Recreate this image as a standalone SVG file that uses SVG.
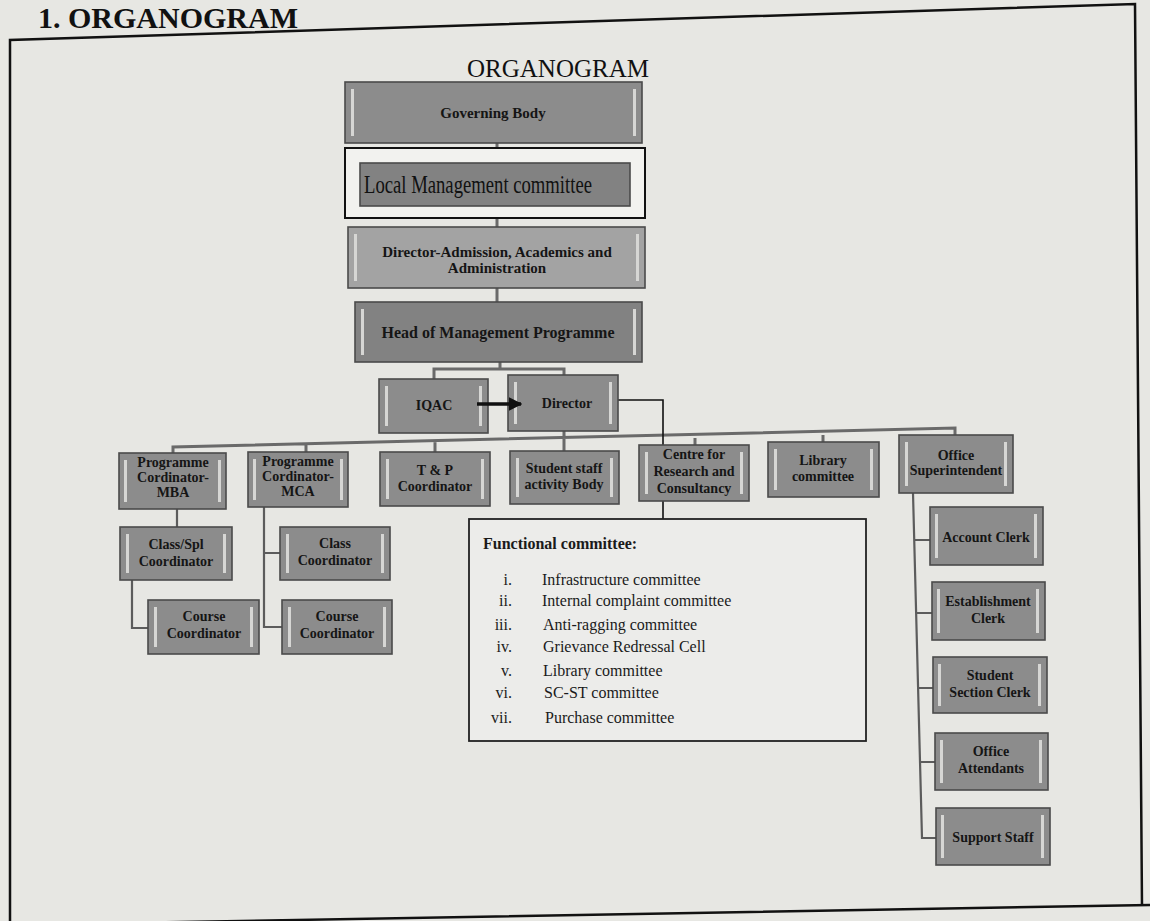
<svg xmlns="http://www.w3.org/2000/svg" width="1150" height="921" viewBox="0 0 1150 921">
<defs>
<style>
.bg{fill:#e7e7e3}
.page{fill:none;stroke:#111;stroke-width:2.5}
.box{fill:#8c8c8c;stroke:#4a4a4a;stroke-width:1.6}
.box.light{fill:#a3a3a3}
.box.dark{fill:#828282}
.hl{fill:#d6d6d4}
.t{font-family:"Liberation Serif","Times New Roman",serif;font-weight:bold;font-size:14px;fill:#151515;text-anchor:middle}
.tm{font-size:15px}
.tl{font-size:16px}
.con{fill:none;stroke:#6a6a6a;stroke-width:3}
.con2{fill:none;stroke:#5c5c5c;stroke-width:2.2}
.blk{fill:none;stroke:#111;stroke-width:1.6}
.fc{font-family:"Liberation Serif","Times New Roman",serif;font-size:16px;fill:#1a1a1a}
</style>
<marker id="ah" viewBox="0 0 10 10" refX="9" refY="5" markerWidth="3.8" markerHeight="3.8" orient="auto" markerUnits="strokeWidth">
<path d="M0,0 L10,5 L0,10 z" fill="#111"/>
</marker>
</defs>
<rect class="bg" x="0" y="0" width="1150" height="921"/>
<text x="38" y="28" font-family="Liberation Serif, Times New Roman, serif" font-weight="bold" font-size="30" fill="#111">1.  ORGANOGRAM</text>
<path class="page" d="M10,925 L10,40 L1135,4 L1142,906 M1150,905 L9,925"/>
<text x="558" y="77" font-family="Liberation Serif, Times New Roman, serif" font-size="25" fill="#111" text-anchor="middle">ORGANOGRAM</text>

<g id="connectors">
<path class="con" d="M497,143 V148 M497,218 V227 M497,288 V302"/>
<path class="con" d="M500,362 V369 M434,379 V369 H564 V375"/>
<path class="con" d="M173,454 V447 L955,428 V435 M306,453 V444 M435,452 V441 M564,431 V451 M695,445 V438 M823,442 V435"/>
<path class="con2" d="M177,509 V527 M132,580 V628 H148"/>
<path class="con2" d="M264,507 V627 H282 M264,553 H280"/>
<path class="con2" d="M913,493 L922,838 H936 M914,540 H930 M916,613 H932 M918,688 H933 M920,762 H935"/>
<path class="blk" d="M618,400 H663 V519"/>
</g>

<g id="governing-body"><rect class="box" x="345" y="82" width="297" height="61"/><rect class="hl" x="351" y="89" width="3" height="47"/><rect class="hl" x="633" y="89" width="3" height="47"/><text class="t tm" x="493" y="118">Governing Body</text></g>

<g id="local-management"><rect x="345" y="148" width="300" height="70" fill="#f2f2ef" stroke="#111" stroke-width="2"/><rect class="box dark" x="360" y="163" width="270" height="43" stroke="none"/><text x="364" y="193" font-family="Liberation Serif, Times New Roman, serif" font-size="26" fill="#111" textLength="228" lengthAdjust="spacingAndGlyphs">Local Management committee</text></g>

<g id="director-admission"><rect class="box light" x="348" y="227" width="297" height="61"/><rect class="hl" x="354" y="234" width="3" height="47"/><rect class="hl" x="636" y="234" width="3" height="47"/><text class="t tm" x="497" y="257">Director-Admission, Academics and</text><text class="t tm" x="497" y="273">Administration</text></g>

<g id="head-mp"><rect class="box dark" x="355" y="302" width="287" height="60"/><rect class="hl" x="361" y="309" width="3" height="46"/><rect class="hl" x="633" y="309" width="3" height="46"/><text class="t tl" x="498" y="338">Head of Management Programme</text></g>

<g id="iqac"><rect class="box" x="379" y="379" width="109" height="54"/><rect class="hl" x="385" y="386" width="3" height="40"/><rect class="hl" x="479" y="386" width="3" height="40"/><text class="t" x="434" y="410">IQAC</text></g>

<g id="director"><rect class="box" x="508" y="375" width="110" height="56"/><rect class="hl" x="514" y="382" width="3" height="42"/><rect class="hl" x="609" y="382" width="3" height="42"/><text class="t" x="567" y="408">Director</text></g>

<g id="iqac-arrow"><path d="M477,404 H521" stroke="#111" stroke-width="3.5" fill="none" marker-end="url(#ah)"/></g>

<g id="pc-mba"><rect class="box" x="119" y="453" width="107" height="56"/><rect class="hl" x="124" y="460" width="3" height="42"/><rect class="hl" x="218" y="460" width="3" height="42"/><text class="t" x="173" y="467">Programme</text><text class="t" x="173" y="482">Cordinator-</text><text class="t" x="173" y="497">MBA</text></g>

<g id="pc-mca"><rect class="box" x="248" y="452" width="100" height="55"/><rect class="hl" x="253" y="459" width="3" height="41"/><rect class="hl" x="340" y="459" width="3" height="41"/><text class="t" x="298" y="466">Programme</text><text class="t" x="298" y="481">Cordinator-</text><text class="t" x="298" y="496">MCA</text></g>

<g id="tp"><rect class="box" x="380" y="452" width="110" height="54"/><rect class="hl" x="386" y="459" width="3" height="40"/><rect class="hl" x="481" y="459" width="3" height="40"/><text class="t" x="435" y="475">T &amp; P</text><text class="t" x="435" y="491">Coordinator</text></g>

<g id="student-staff"><rect class="box" x="510" y="451" width="109" height="53"/><rect class="hl" x="516" y="458" width="3" height="39"/><rect class="hl" x="610" y="458" width="3" height="39"/><text class="t" x="564" y="473">Student staff</text><text class="t" x="564" y="489">activity Body</text></g>

<g id="crc"><rect class="box" x="639" y="445" width="110" height="56"/><rect class="hl" x="645" y="452" width="3" height="42"/><rect class="hl" x="740" y="452" width="3" height="42"/><text class="t" x="694" y="459">Centre for</text><text class="t" x="694" y="476">Research and</text><text class="t" x="694" y="493">Consultancy</text></g>

<g id="library"><rect class="box" x="768" y="442" width="111" height="55"/><rect class="hl" x="774" y="449" width="3" height="41"/><rect class="hl" x="870" y="449" width="3" height="41"/><text class="t" x="823" y="465">Library</text><text class="t" x="823" y="481">committee</text></g>

<g id="office-sup"><rect class="box" x="899" y="435" width="114" height="58"/><rect class="hl" x="905" y="442" width="3" height="44"/><rect class="hl" x="1004" y="442" width="3" height="44"/><text class="t" x="956" y="460">Office</text><text class="t" x="956" y="475">Superintendent</text></g>

<g id="class-spl"><rect class="box" x="120" y="527" width="112" height="53"/><rect class="hl" x="126" y="534" width="3" height="39"/><rect class="hl" x="223" y="534" width="3" height="39"/><text class="t" x="176" y="549">Class/Spl</text><text class="t" x="176" y="566">Coordinator</text></g>

<g id="course-l"><rect class="box" x="148" y="600" width="111" height="54"/><rect class="hl" x="154" y="607" width="3" height="40"/><rect class="hl" x="250" y="607" width="3" height="40"/><text class="t" x="204" y="621">Course</text><text class="t" x="204" y="638">Coordinator</text></g>

<g id="class-coord"><rect class="box" x="280" y="527" width="110" height="53"/><rect class="hl" x="286" y="534" width="3" height="39"/><rect class="hl" x="381" y="534" width="3" height="39"/><text class="t" x="335" y="548">Class</text><text class="t" x="335" y="565">Coordinator</text></g>

<g id="course-r"><rect class="box" x="282" y="600" width="110" height="54"/><rect class="hl" x="288" y="607" width="3" height="40"/><rect class="hl" x="383" y="607" width="3" height="40"/><text class="t" x="337" y="621">Course</text><text class="t" x="337" y="638">Coordinator</text></g>

<g id="functional-committee"><rect x="469" y="519" width="397" height="222" fill="#ececea" stroke="#222" stroke-width="1.8"/>
<text class="fc" x="483" y="549" font-weight="bold">Functional committee:</text>
<g text-anchor="end"><text class="fc" x="512" y="585">i.</text><text class="fc" x="512" y="606">ii.</text><text class="fc" x="512" y="630">iii.</text><text class="fc" x="512" y="652">iv.</text><text class="fc" x="512" y="676">v.</text><text class="fc" x="512" y="698">vi.</text><text class="fc" x="512" y="723">vii.</text></g>
<text class="fc" x="542" y="585">Infrastructure committee</text>
<text class="fc" x="542" y="606">Internal complaint committee</text>
<text class="fc" x="543" y="630">Anti-ragging committee</text>
<text class="fc" x="543" y="652">Grievance Redressal Cell</text>
<text class="fc" x="543" y="676">Library committee</text>
<text class="fc" x="544" y="698">SC-ST committee</text>
<text class="fc" x="545" y="723">Purchase committee</text>
</g>

<g id="account-clerk"><rect class="box" x="930" y="507" width="113" height="58"/><rect class="hl" x="935" y="514" width="3" height="44"/><rect class="hl" x="1034" y="514" width="3" height="44"/><text class="t" x="986" y="542">Account Clerk</text></g>

<g id="establishment-clerk"><rect class="box" x="932" y="582" width="113" height="58"/><rect class="hl" x="937" y="589" width="3" height="44"/><rect class="hl" x="1036" y="589" width="3" height="44"/><text class="t" x="988" y="606">Establishment</text><text class="t" x="988" y="623">Clerk</text></g>

<g id="student-section-clerk"><rect class="box" x="933" y="657" width="114" height="56"/><rect class="hl" x="938" y="664" width="3" height="42"/><rect class="hl" x="1038" y="664" width="3" height="42"/><text class="t" x="990" y="680">Student</text><text class="t" x="990" y="697">Section Clerk</text></g>

<g id="office-attendants"><rect class="box" x="935" y="733" width="113" height="57"/><rect class="hl" x="940" y="740" width="3" height="43"/><rect class="hl" x="1039" y="740" width="3" height="43"/><text class="t" x="991" y="756">Office</text><text class="t" x="991" y="773">Attendants</text></g>

<g id="support-staff"><rect class="box" x="936" y="808" width="114" height="57"/><rect class="hl" x="941" y="815" width="3" height="43"/><rect class="hl" x="1041" y="815" width="3" height="43"/><text class="t" x="993" y="842">Support Staff</text></g>
</svg>
